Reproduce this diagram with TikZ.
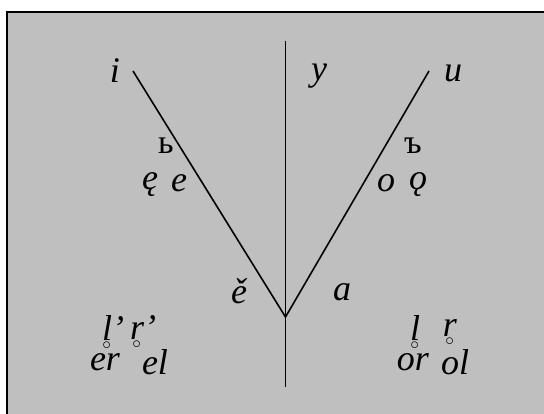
\documentclass[tikz,border=0pt]{standalone}
\usepackage{fontspec}
\setmainfont{Liberation Serif}[ItalicFont=Liberation Serif Italic]
\usetikzlibrary{positioning}

% letter with a small ring under it (syllabic liquid)
\newcommand\ringb[1]{\ooalign{#1\cr\hidewidth\kern-0.02em\raisebox{-0.24em}[0pt][0pt]{\fontsize{18}{18}\selectfont$\circ$}\hidewidth\cr}}

\begin{document}
\begin{tikzpicture}[
    x=1pt, y=-1pt,
    every node/.style={inner sep=0pt, anchor=center},
    snd/.style={font=\fontsize{36}{37}\selectfont\itshape},
    jer/.style={font=\fontsize{34}{35}\selectfont},
    branch/.style={draw=black, line width=1.6pt},
    frame/.style={fill=gray!50!white, draw=black, line width=2pt},
  ]

  %% --- canvas and frame -------------------------------------------------
  \useasboundingbox (0,0) rectangle (544,413);
  \clip (0,0) rectangle (544,413);
  \fill[white] (0,0) rectangle (544,413);
  \draw[frame] (6.5,11.5) rectangle (570,440);

  %% --- tree points --------------------------------------------------------
  \coordinate (top)    at (285.5,40.5);
  \coordinate (bottom) at (285.5,386.5);
  \coordinate (root)   at (285.5,317);
  \coordinate (ltop)   at (133,71);
  \coordinate (rtop)   at (429,71);

  %% --- branches -----------------------------------------------------------
  \draw[branch] (top) -- (bottom);
  \draw[branch] (ltop) -- (root) -- (rtop);

  %% --- top row ------------------------------------------------------------
  \node[snd] (i) at (115,71) {i};
  \node[snd] (y) at (319,76) {y};
  \node[snd] (u) at (453,73) {u};

  %% --- front / back mid vowels --------------------------------------------
  \node[jer] (soft) at (166,146) {ь};
  \node[snd] (enas) at (150,185) {ę};
  \node[snd] (efr)  at (179,183) {e};
  \node[jer] (hard) at (413,146) {ъ};
  \node[snd] (obk)  at (386,183) {o};
  \node[snd] (onas) at (418,185) {ǫ};

  %% --- low vowels ---------------------------------------------------------
  \node[snd] (yat) at (239,291) {ě};
  \node[snd] (a)   at (342,292) {a};

  %% --- syllabic liquids ---------------------------------------------------
  \node[snd] (lsoft) at (113,328) {\ringb{l}’};
  \node[snd] (rsoft) at (143,328) {\ringb{r}’};
  \node[snd] (er)    at (105,362) {er};
  \node[snd] (el)    at (155,362) {el};
  \node[snd] (lhard) at (415,328) {\ringb{l}};
  \node[snd] (rhard) at (450,328) {\ringb{r}};
  \node[snd] (or)    at (413,362) {or};
  \node[snd] (ol)    at (455,362) {ol};

\end{tikzpicture}
\end{document}
